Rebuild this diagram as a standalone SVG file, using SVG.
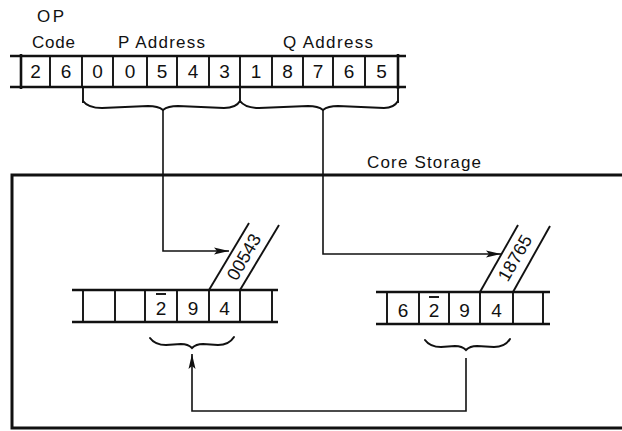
<svg xmlns="http://www.w3.org/2000/svg" width="622" height="431" viewBox="0 0 622 431">
<defs>
<style>
.t{font-family:"Liberation Sans",Arial,sans-serif;fill:#111}
.lbl{font-size:17px}
.dg{font-size:19px;text-anchor:middle}
.sl{font-size:18px;text-anchor:middle;dominant-baseline:central}
.h{stroke:#111;stroke-width:2.6;fill:none}
.v{stroke:#111;stroke-width:1.9;fill:none}
.br{stroke:#111;stroke-width:2;fill:none;stroke-linecap:round}
.c{stroke:#111;stroke-width:1.6;fill:none}
.box{stroke:#111;stroke-width:3;fill:none}
</style>
<marker id="ah" markerWidth="16" markerHeight="8" refX="15" refY="4" orient="auto" markerUnits="userSpaceOnUse">
<path d="M0,0.5 L15,4 L0,7.5 L3,4 Z" fill="#111"/>
</marker>
</defs>

<g id="labels">
<text class="t lbl" x="37" y="22" textLength="27">OP</text>
<text class="t lbl" x="32" y="48" textLength="43">Code</text>
<text class="t lbl" x="118" y="48" textLength="87">P Address</text>
<text class="t lbl" x="283" y="48" textLength="90">Q Address</text>
</g>

<g id="instruction-register">
<line class="h" x1="10" y1="56" x2="406" y2="56"/>
<line class="h" x1="10" y1="87" x2="406" y2="87"/>
<line class="h" x1="21" y1="54" x2="21" y2="89"/>
<line class="v" x1="50" y1="56" x2="50" y2="87"/>
<line class="v" x1="82" y1="56" x2="82" y2="87"/>
<line class="v" x1="113" y1="56" x2="113" y2="87"/>
<line class="v" x1="147" y1="56" x2="147" y2="87"/>
<line class="v" x1="177" y1="56" x2="177" y2="87"/>
<line class="v" x1="209" y1="56" x2="209" y2="87"/>
<line class="v" x1="240" y1="56" x2="240" y2="87"/>
<line class="v" x1="272" y1="56" x2="272" y2="87"/>
<line class="v" x1="303" y1="56" x2="303" y2="87"/>
<line class="v" x1="333" y1="56" x2="333" y2="87"/>
<line class="v" x1="365" y1="56" x2="365" y2="87"/>
<line class="h" x1="398" y1="54" x2="398" y2="89"/>
<text class="t dg" x="35.5" y="78">2</text>
<text class="t dg" x="66" y="78">6</text>
<text class="t dg" x="97.5" y="78">0</text>
<text class="t dg" x="130" y="78">0</text>
<text class="t dg" x="162" y="78">5</text>
<text class="t dg" x="193" y="78">4</text>
<text class="t dg" x="224.5" y="78">3</text>
<text class="t dg" x="256" y="78">1</text>
<text class="t dg" x="287.5" y="78">8</text>
<text class="t dg" x="318" y="78">7</text>
<text class="t dg" x="349" y="78">6</text>
<text class="t dg" x="381.5" y="78">5</text>
</g>

<g id="address-braces">
<line class="v" x1="83" y1="88" x2="83" y2="103"/>
<line class="v" x1="240" y1="88" x2="240" y2="103"/>
<line class="v" x1="398" y1="88" x2="398" y2="103"/>
<path class="br" d="M83,101 Q88,108 102,108 L148,106 Q158,106 163,110 Q168,106 178,106 L224,108 Q236,108 240,101"/>
<path class="br" d="M240,101 Q245,108 259,108 L308,106 Q318,106 323,110 Q328,106 338,106 L384,108 Q394,108 398,101"/>
</g>

<g id="core-storage">
<path class="box" d="M622,175 L12,175 L12,428 L622,428"/>
<text class="t lbl" x="367" y="168" textLength="114">Core Storage</text>
</g>

<g id="field-p">
<line class="h" x1="72" y1="290" x2="278" y2="290"/>
<line class="h" x1="72" y1="322" x2="278" y2="322"/>
<line class="v" x1="83" y1="290" x2="83" y2="322"/>
<line class="v" x1="115" y1="290" x2="115" y2="322"/>
<line class="v" x1="145" y1="290" x2="145" y2="322"/>
<line class="v" x1="177" y1="290" x2="177" y2="322"/>
<line class="v" x1="209" y1="290" x2="209" y2="322"/>
<line class="v" x1="240" y1="290" x2="240" y2="322"/>
<line class="v" x1="272" y1="290" x2="272" y2="322"/>
<text class="t dg" x="161" y="315">2</text>
<line class="v" x1="156" y1="294" x2="166" y2="294"/>
<text class="t dg" x="193" y="315">9</text>
<text class="t dg" x="224.5" y="315">4</text>
<line class="v" x1="209" y1="290" x2="249" y2="223"/>
<line class="v" x1="240" y1="290" x2="279" y2="225"/>
<text class="t sl" transform="translate(244,257) rotate(-60)">00543</text>
</g>

<g id="field-q">
<line class="h" x1="376" y1="292" x2="550" y2="292"/>
<line class="h" x1="376" y1="324" x2="550" y2="324"/>
<line class="v" x1="387" y1="292" x2="387" y2="324"/>
<line class="v" x1="419" y1="292" x2="419" y2="324"/>
<line class="v" x1="449" y1="292" x2="449" y2="324"/>
<line class="v" x1="480" y1="292" x2="480" y2="324"/>
<line class="v" x1="513" y1="292" x2="513" y2="324"/>
<line class="v" x1="543" y1="292" x2="543" y2="324"/>
<text class="t dg" x="403" y="317">6</text>
<text class="t dg" x="434" y="317">2</text>
<line class="v" x1="429" y1="297" x2="439" y2="297"/>
<text class="t dg" x="464.5" y="317">9</text>
<text class="t dg" x="496.5" y="317">4</text>
<line class="v" x1="480" y1="292" x2="518" y2="225"/>
<line class="v" x1="513" y1="292" x2="550" y2="226"/>
<text class="t sl" transform="translate(515,258) rotate(-60)">18765</text>
</g>

<g id="field-braces">
<path class="br" d="M150,338 Q155,345 166,345 L181,344 Q188,344 192,348 Q196,344 203,344 L218,345 Q229,345 234,337"/>
<path class="br" d="M425,340 Q430,347 441,347 L455,346 Q462,346 466,350 Q470,346 477,346 L494,347 Q505,347 510,339"/>
</g>

<g id="connectors">
<polyline class="c" points="163,110 163,251 229,251" marker-end="url(#ah)"/>
<polyline class="c" points="323,110 323,254 501,254" marker-end="url(#ah)"/>
<polyline class="c" points="466,358 466,411 192,411 192,354" marker-end="url(#ah)"/>
</g>
</svg>
